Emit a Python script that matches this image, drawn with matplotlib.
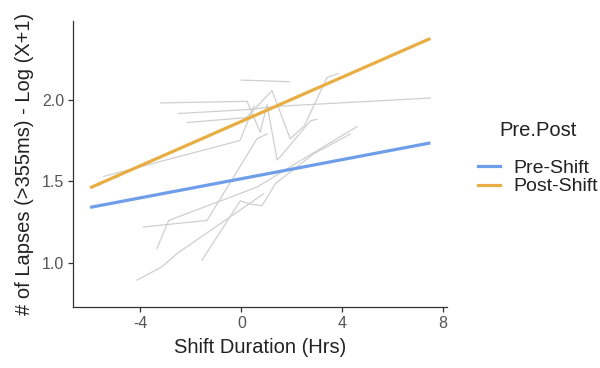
import matplotlib
matplotlib.use("Agg")
import matplotlib.pyplot as plt
from matplotlib.lines import Line2D

plt.rcParams['font.family'] = ['Liberation Sans', 'DejaVu Sans']

# Regression lines (Shift Duration vs log lapses)
fit_x = [-6.0, 7.5]
pre_shift = [1.34, 1.735]
post_shift = [1.46, 2.375]

# Individual subject trajectories (gray)
subj_x = [
    [0.0, 1.9],
    [-3.2, 0.23, 0.75, 1.02, 1.42, 1.6, 2.74, 3.0],
    [-2.5, 0.3, 1.5, 7.5],
    [-2.15, 0.2, 1.22, 1.94, 2.5, 3.4, 3.86],
    [-5.45, -0.05, 0.5],
    [-1.56, -0.04, 0.36, 0.82, 1.35, 2.87, 4.33],
    [-4.14, -3.15, -2.55, 0.89],
    [-3.88, -1.36, 0.62, 1.02],
    [-3.35, -2.88, 0.62, 2.47, 4.59],
]
subj_y = [
    [2.12, 2.11],
    [1.98, 1.99, 1.80, 1.97, 1.63, 1.66, 1.87, 1.88],
    [1.915, 1.94, 1.96, 2.01],
    [1.86, 1.89, 2.055, 1.76, 1.84, 2.136, 2.16],
    [1.53, 1.75, 1.96],
    [1.017, 1.38, 1.36, 1.35, 1.485, 1.668, 1.79],
    [0.894, 0.976, 1.057, 1.424],
    [1.22, 1.26, 1.76, 1.79],
    [1.088, 1.26, 1.464, 1.638, 1.835],
]

x_ticks = [-4, 0, 4, 8]
y_ticks = [1.0, 1.5, 2.0]
series_labels = ["Pre-Shift", "Post-Shift"]
legend_title = "Pre.Post"
colors = ["#6E9DEA", "#E8AE43"]

fig = plt.figure(figsize=(6.0, 3.68), dpi=100)
ax = fig.add_axes([0.122, 0.166, 0.623, 0.776])

for xs, ys in zip(subj_x, subj_y):
    ax.plot(xs, ys, color="#CFCFCF", linewidth=0.9, zorder=1)

ax.plot(fit_x, pre_shift, color=colors[0], linewidth=2.3, zorder=3, solid_capstyle='butt')
ax.plot(fit_x, post_shift, color=colors[1], linewidth=2.3, zorder=3, solid_capstyle='butt')

ax.set_xlim(-6.67, 8.16)
ax.set_ylim(0.73, 2.48)
ax.set_xticks(x_ticks)
ax.set_xticklabels([str(t) for t in x_ticks])
ax.set_yticks(y_ticks)
ax.set_yticklabels([f"{t:.1f}" for t in y_ticks])

for s in ["top", "right"]:
    ax.spines[s].set_visible(False)
for s in ["left", "bottom"]:
    ax.spines[s].set_color("#333333")
    ax.spines[s].set_linewidth(0.9)
ax.tick_params(axis='both', colors="#333333", length=3.5, width=0.9,
               labelsize=11.5, labelcolor="#555555", pad=3)

ax.set_xlabel("Shift Duration (Hrs)", fontsize=14.5, color="#222222", labelpad=5)
ax.set_ylabel("# of Lapses (>355ms) - Log (X+1)", fontsize=14.5, color="#222222", labelpad=6)

handles = [Line2D([0], [0], color=c, linewidth=2.3) for c in colors]
leg = fig.legend(handles, series_labels, loc="center left",
                 bbox_to_anchor=(0.797, 0.518), frameon=False, fontsize=14,
                 handlelength=1.1, handletextpad=0.7,
                 labelspacing=0.05, borderaxespad=0, borderpad=0)
for t in leg.get_texts():
    t.set_color("#222222")
fig.text(538 / 600, 1 - 131 / 368, legend_title, ha="center", va="center",
         fontsize=14.5, color="#222222")

fig.savefig("out.png", dpi=100)
